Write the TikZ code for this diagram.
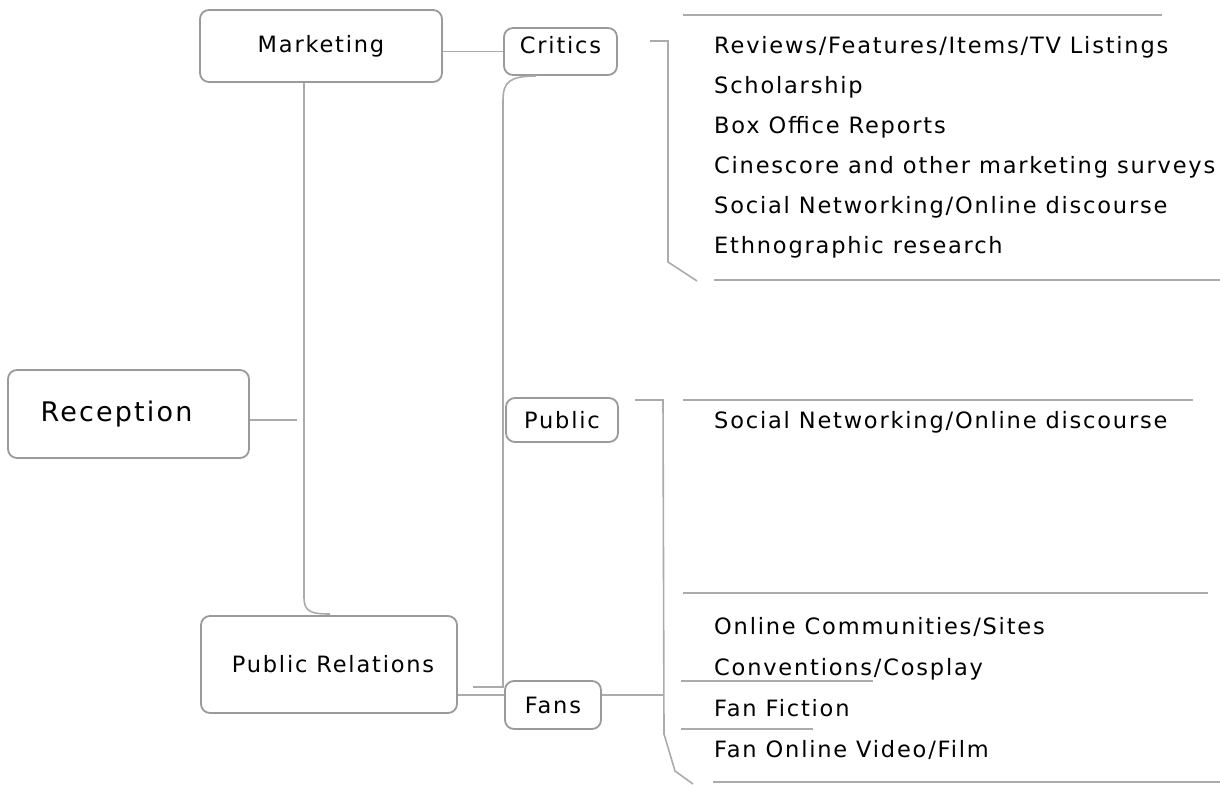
\documentclass[tikz,border=0pt]{standalone}
\usepackage{fontspec}
\setmainfont{DejaVu Sans}[LetterSpace=8]
\definecolor{linegray}{HTML}{ABABAB}
\definecolor{boxgray}{HTML}{9A9A9A}
\begin{document}
\begin{tikzpicture}[x=1pt,y=-1pt,
  conn/.style={draw=linegray,line width=1.6pt},
  box/.style={draw=boxgray,line width=1.8pt,rounded corners=9pt,fill=white,
    inner sep=0pt,font=\fontsize{22.5}{26}\selectfont},
  item/.style={anchor=base west,inner sep=0pt,font=\fontsize{22.5}{26}\selectfont}]
\useasboundingbox (0,0) rectangle (1220,784);

% topic boxes
\node[box,minimum width=241,minimum height=88,font=\fontsize{27}{32}\selectfont] (rec) at (128.5,414) {Reception\hspace*{24pt}};
\node[box,minimum width=242,minimum height=72] (mkt) at (321,46) {Marketing};
\node[box,minimum width=256,minimum height=97] (pr) at (329,664.5) {\hspace*{8pt}Public Relations};
\node[box,minimum width=113,minimum height=47] (crit) at (560.5,51.5) {\raisebox{6pt}[\height][\depth]{Critics}};
\node[box,minimum width=112,minimum height=44] (pub) at (562,420) {Public};
\node[box,minimum width=96,minimum height=48] (fans) at (553,705) {Fans};

% junction points
\coordinate (recend) at (297,420);
\coordinate (prtop) at (330,614);
\coordinate (spine) at (503,100);
\coordinate (spineend) at (473,687);
\coordinate (cbr) at (668,41);
\coordinate (pbr) at (663,400);

% branch connectors
\draw[conn] ([yshift=-6pt]rec.east) -- (recend);
\draw[conn] (mkt.south -| 304,0) -- (304,598) .. controls (304,612) and (312,614) .. (prtop);
\draw[conn] (mkt.east |- crit.center) -- (crit.west |- crit.center);
\draw[conn] (536,76) .. controls (510,76) and (503,82) .. (spine) -- (503,687) -- (spineend);
\draw[conn] (pr.east |- 0,695) -- (fans.west |- 0,695);
\draw[conn] (fans.east |- 0,695) -- (pbr |- 0,695);

% brackets
\draw[conn] (650,41) -- (cbr) -- (668,262) -- (697,281);
\draw[conn] (635,400) -- (pbr) -- (664,734) -- (675,771) -- (693,784);

% critics items
\draw[conn] (683,15) -- (1162,15);
\node[item] (c1) at (714,53) {Reviews/Features/Items/TV Listings};
\node[item] (c2) at (714,93) {Scholarship};
\node[item] (c3) at (714,133) {Box Office Reports};
\node[item] (c4) at (714,173) {Cinescore and other marketing surveys};
\node[item] (c5) at (714,213) {Social Networking/Online discourse};
\node[item] (c6) at (714,253) {Ethnographic research};
\draw[conn] (714,280) -- (1220,280);

% public items
\draw[conn] (683,400) -- (1193,400);
\node[item] (p1) at (714,428) {Social Networking/Online discourse};

% fans items
\draw[conn] (683,593) -- (1208,593);
\node[item] (f1) at (714,634) {Online Communities/Sites};
\node[item] (f2) at (714,675) {Conventions/Cosplay};
\node[item] (f3) at (714,716) {Fan Fiction};
\node[item] (f4) at (714,757) {Fan Online Video/Film};
\draw[conn] (681,681) -- (873,681);
\draw[conn] (681,729) -- (813,729);
\draw[conn] (713,782) -- (1220,782);
\end{tikzpicture}
\end{document}
